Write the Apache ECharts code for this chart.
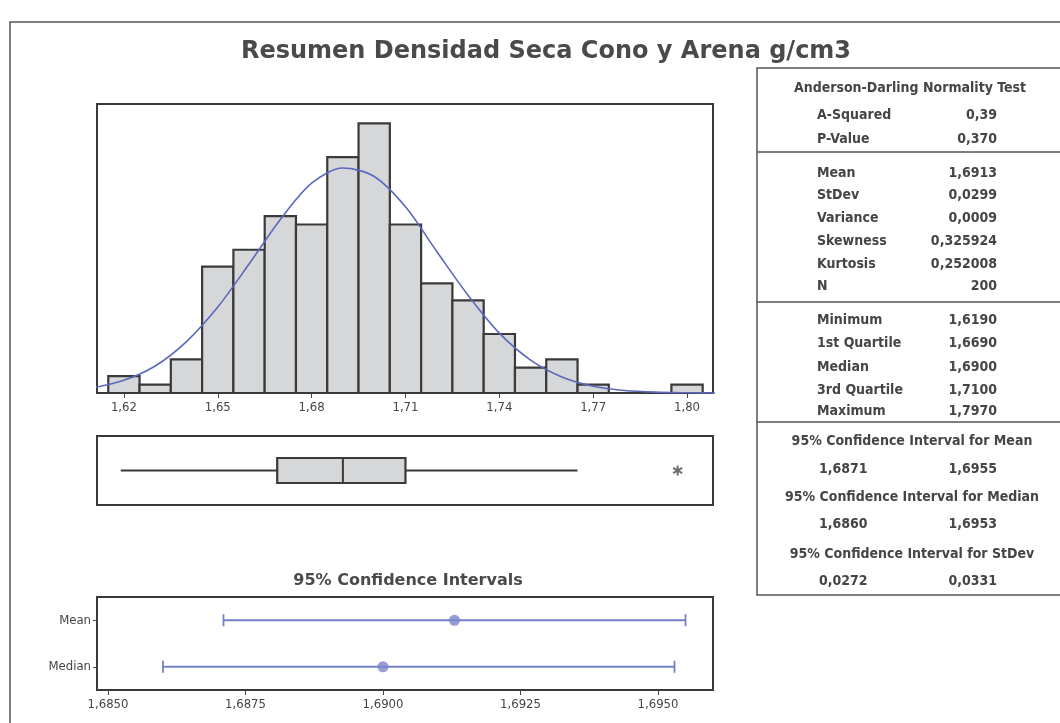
<!DOCTYPE html>
<html><head><meta charset="utf-8">
<script src="https://cdn.jsdelivr.net/npm/echarts@6/dist/echarts.min.js"></script>
<style>html,body{margin:0;padding:0;background:#fff}#c{width:1060px;height:723px}</style>
</head><body><div id="c"></div>
<script>
// ---- data ----
const titleText = 'Resumen Densidad Seca Cono y Arena g/cm3';
const binCenters = [1.62,1.63,1.64,1.65,1.66,1.67,1.68,1.69,1.70,1.71,1.72,1.73,1.74,1.75,1.76,1.77,1.78,1.79,1.80];
const binCounts  = [2,1,4,15,17,21,20,28,32,20,13,11,7,3,4,1,0,0,1];
const binWidth = 0.01;
const curveX = [1.61,1.62,1.63,1.64,1.65,1.66,1.67,1.68,1.69,1.70,1.71,1.72,1.73,1.74,1.75,1.76,1.77,1.78,1.79,1.80,1.81];
const curveY = [0.6,1.5,3.2,6.1,10.2,15.3,20.6,24.9,26.7,25.7,22.1,16.8,11.6,7.1,3.9,1.9,0.8,0.3,0.1,0.03,0.0];
const histTicks = [1.62,1.65,1.68,1.71,1.74,1.77,1.80];
const boxStats = [1.619, 1.669, 1.690, 1.710, 1.765]; // whisker low, Q1, median, Q3, whisker high
const outliers = [1.797];
const ciCategories = ['Median','Mean'];
const ciLow   = [1.6860, 1.6871];
const ciHigh  = [1.6953, 1.6955];
const ciPoint = [1.6900, 1.6913];
const ciTicks = [1.6850,1.6875,1.6900,1.6925,1.6950];
const adRows = [['A-Squared','0,39'],['P-Value','0,370']];
const descRows = [['Mean','1,6913'],['StDev','0,0299'],['Variance','0,0009'],['Skewness','0,325924'],['Kurtosis','0,252008'],['N','200']];
const quantRows = [['Minimum','1,6190'],['1st Quartile','1,6690'],['Median','1,6900'],['3rd Quartile','1,7100'],['Maximum','1,7970']];
const ciRows = [['95% Confidence Interval for Mean','1,6871','1,6955'],['95% Confidence Interval for Median','1,6860','1,6953'],['95% Confidence Interval for StDev','0,0272','0,0331']];

// ---- style ----
const FONT = "'DejaVu Sans Condensed','DejaVu Sans','Liberation Sans',sans-serif";
const TXT = '#454545';
const BLUE = '#5b68bb';
const comma = (v, d) => v.toFixed(d).replace('.', ',');

const chart = echarts.init(document.getElementById('c'), null, {renderer:'canvas'});

// panel graphics
const g = [];
g.push({type:'rect', shape:{x:10, y:22, width:1070, height:720}, style:{fill:'none', stroke:'#555', lineWidth:1.5}, silent:true});
g.push({type:'rect', shape:{x:757, y:68, width:320, height:527}, style:{fill:'none', stroke:'#555', lineWidth:1.5}, silent:true});
[152, 302, 422].forEach(y => g.push({type:'line', shape:{x1:757, y1:y, x2:1060, y2:y}, style:{stroke:'#555', lineWidth:1.5}, silent:true}));
function txt(x, y, s, align, size){
  g.push({type:'text', x:x, y:y, style:{text:s, fill:TXT, font:'bold '+(size||14)+'px '+FONT, align:align||'left', verticalAlign:'middle'}, silent:true});
}
txt(910, 88, 'Anderson-Darling Normality Test', 'center');
adRows.forEach((r,i)=>{ txt(817, 115+i*24, r[0]); txt(997, 115+i*24, r[1], 'right'); });
const descY = [173,195,218,241,264,286];
descRows.forEach((r,i)=>{ txt(817, descY[i], r[0]); txt(997, descY[i], r[1], 'right'); });
const quantY = [320,343,367,390,411];
quantRows.forEach((r,i)=>{ txt(817, quantY[i], r[0]); txt(997, quantY[i], r[1], 'right'); });
const ciHeadY = [441,497,554], ciValY = [469,524,581];
ciRows.forEach((r,i)=>{ txt(912, ciHeadY[i], r[0], 'center'); txt(819, ciValY[i], r[1]); txt(997, ciValY[i], r[2], 'right'); });

const option = {
  animation:false,
  backgroundColor:'#fff',
  title:[
    {text:titleText, left:541, top:35, textAlign:'center', textStyle:{fontFamily:"'DejaVu Sans',sans-serif", fontWeight:'bold', fontSize:24, color:'#4a4a4a'}},
    {text:'95% Confidence Intervals', left:403, top:568, textAlign:'center', textStyle:{fontFamily:"'DejaVu Sans',sans-serif", fontWeight:'bold', fontSize:16, color:'#4a4a4a'}}
  ],
  grid:[
    {left:97, top:104, width:616, height:289, show:true, borderColor:'#3a3a3a', borderWidth:2},
    {left:97, top:436, width:616, height:69, show:true, borderColor:'#3a3a3a', borderWidth:2},
    {left:97, top:597, width:616, height:93, show:true, borderColor:'#3a3a3a', borderWidth:2}
  ],
  xAxis:[
    {type:'value', gridIndex:0, min:1.6114, max:1.8083,
     axisLine:{show:false}, splitLine:{show:false},
     axisTick:{show:true, length:5, lineStyle:{color:'#444'}, customValues:histTicks},
     axisLabel:{color:TXT, fontFamily:FONT, fontSize:13, margin:8, customValues:histTicks, formatter:v=>comma(v,2)}},
    {type:'value', gridIndex:1, min:1.6114, max:1.8083, show:false, splitLine:{show:false}},
    {type:'value', gridIndex:2, min:1.6848, max:1.6960,
     axisLine:{show:false}, splitLine:{show:false},
     axisTick:{show:true, length:5, lineStyle:{color:'#444'}, customValues:ciTicks},
     axisLabel:{color:TXT, fontFamily:FONT, fontSize:13, margin:8, customValues:ciTicks, formatter:v=>comma(v,4)}}
  ],
  yAxis:[
    {type:'value', gridIndex:0, min:0, max:34.3, show:false, splitLine:{show:false}},
    {type:'category', gridIndex:1, data:[''], show:false},
    {type:'category', gridIndex:2, data:ciCategories,
     axisLine:{show:false}, axisTick:{show:true, length:4, alignWithLabel:true, lineStyle:{color:'#444'}},
     axisLabel:{color:TXT, fontFamily:FONT, fontSize:13, margin:6}, splitLine:{show:false}}
  ],
  series:[
    {type:'custom', xAxisIndex:0, yAxisIndex:0,
     data: binCenters.map((c,i)=>[c, binCounts[i]]),
     encode:{x:0, y:1},
     renderItem:(params, api)=>{
       const c = api.value(0), n = api.value(1);
       if (!n) return null;
       const p0 = api.coord([c - binWidth/2, n]);
       const p1 = api.coord([c + binWidth/2, 0]);
       return {type:'rect', shape:{x:p0[0], y:p0[1], width:p1[0]-p0[0], height:p1[1]-p0[1]},
               style:{fill:'#d5d7d9', stroke:'#3a3a3a', lineWidth:2.2}};
     }},
    {type:'line', xAxisIndex:0, yAxisIndex:0, data: curveX.map((x,i)=>[x, curveY[i]]),
     smooth:0.3, symbol:'none', lineStyle:{color:BLUE, width:1.6}, z:5},
    {type:'custom', xAxisIndex:1, yAxisIndex:1,
     data:[[0].concat(boxStats)], encode:{y:0, x:[1,2,3,4,5]},
     renderItem:(params, api)=>{
       const v = [1,2,3,4,5].map(i=>api.value(i));
       const P = v.map(x=>api.coord([x, 0]));
       const y = P[0][1], h = 12.5;
       const ls = {stroke:'#3a3a3a', lineWidth:2};
       return {type:'group', children:[
         {type:'line', shape:{x1:P[0][0], y1:y, x2:P[1][0], y2:y}, style:ls},
         {type:'line', shape:{x1:P[3][0], y1:y, x2:P[4][0], y2:y}, style:ls},
         {type:'rect', shape:{x:P[1][0], y:y-h, width:P[3][0]-P[1][0], height:2*h}, style:{fill:'#d5d7d9', stroke:'#3a3a3a', lineWidth:2.2}},
         {type:'line', shape:{x1:P[2][0], y1:y-h, x2:P[2][0], y2:y+h}, style:ls}
       ]};
     }},
    {type:'scatter', xAxisIndex:1, yAxisIndex:1, data: outliers.map(o=>[o, 0]),
     symbol:'path://M4,0 L6,0 L6,3.3 L9,1.6 L10,3.3 L7,5 L10,6.7 L9,8.4 L6,6.7 L6,10 L4,10 L4,6.7 L1,8.4 L0,6.7 L3,5 L0,3.3 L1,1.6 L4,3.3 Z',
     symbolSize:10, itemStyle:{color:'#4a4a4a'}},
    {type:'custom', xAxisIndex:2, yAxisIndex:2,
     data: ciCategories.map((c,i)=>[i, ciLow[i], ciHigh[i]]), encode:{y:0, x:[1,2]},
     renderItem:(params, api)=>{
       const i = api.value(0);
       const a = api.coord([api.value(1), i]), b = api.coord([api.value(2), i]);
       const s = {stroke:'#7480c8', lineWidth:1.8};
       return {type:'group', children:[
         {type:'line', shape:{x1:a[0], y1:a[1], x2:b[0], y2:b[1]}, style:s},
         {type:'line', shape:{x1:a[0], y1:a[1]-6, x2:a[0], y2:a[1]+6}, style:s},
         {type:'line', shape:{x1:b[0], y1:b[1]-6, x2:b[0], y2:b[1]+6}, style:s}
       ]};
     }},
    {type:'scatter', xAxisIndex:2, yAxisIndex:2, data: ciPoint.map((p,i)=>[p, i]),
     symbol:'circle', symbolSize:11, itemStyle:{color:'#7a84cc'}, z:5}
  ],
  graphic:g
};
chart.setOption(option);
</script></body></html>
